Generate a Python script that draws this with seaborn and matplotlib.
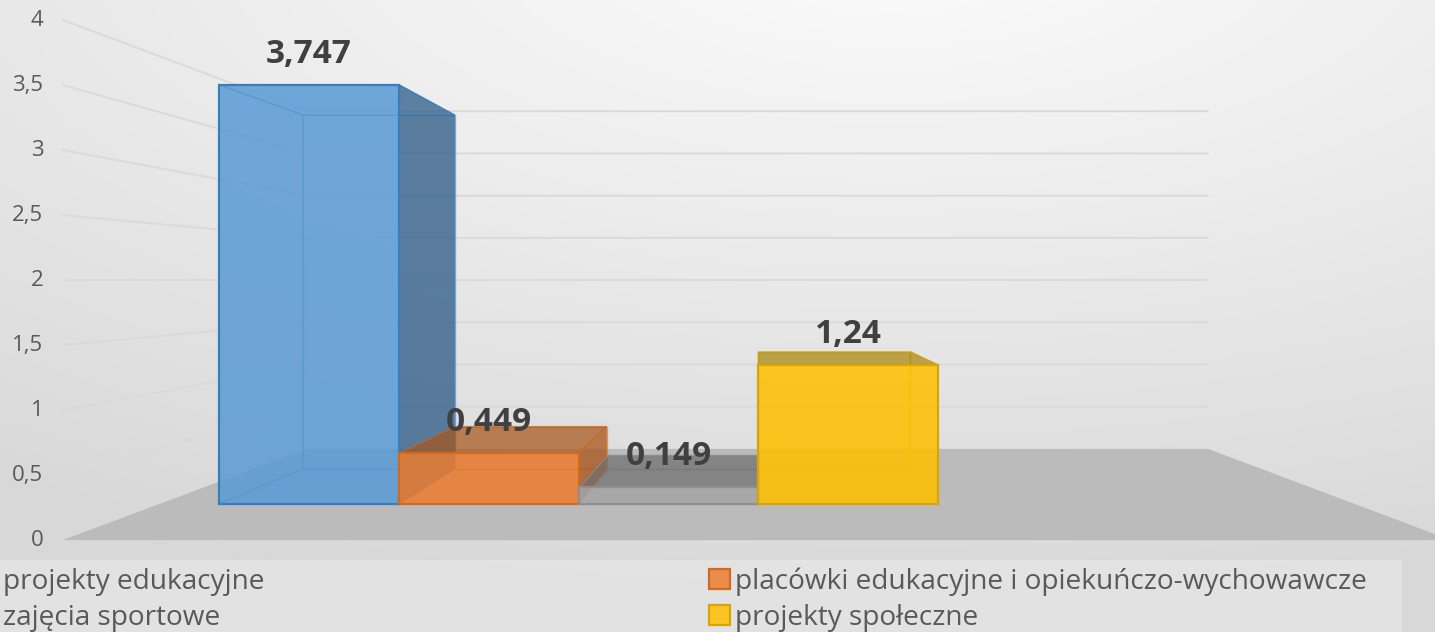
import numpy as np
import pandas as pd
import seaborn as sns
import matplotlib.pyplot as plt
from matplotlib.colors import to_rgba
from matplotlib.patches import Patch, Polygon, Rectangle

# dane
kategorie = ["projekty edukacyjne", "placówki edukacyjne i opiekuńczo-wychowawcze",
             "zajęcia sportowe", "projekty społeczne"]
wartosci = [3.747, 0.449, 0.149, 1.24]
etykiety = ["3,747", "0,449", "0,149", "1,24"]
ticki = [0, 0.5, 1, 1.5, 2, 2.5, 3, 3.5, 4]
tick_labels = ["0", "0,5", "1", "1,5", "2", "2,5", "3", "3,5", "4"]

kolory = ["#5B9BD5", "#ED7D31", "#A5A5A5", "#FFC000"]
krawedzie = ["#3A7DBD", "#CF6A22", "#8F8F8F", "#D6A50C"]
ciemne = ["#2C5A84", "#A8551C", "#6E6E6E", "#A8850A"]

# perspektywa: punkt zbiegu i skale dla scian wykresu oraz tylu slupka
vx, vy = 2.5, 2.0
k_przod, k_tyl, k_slupek = 1.163, 0.755, 0.845
x_lewy, x_prawy = -0.827, 5.813


def rzut(x, y, k):
    return vx + (x - vx) * k, vy + (y - vy) * k


sns.set_style("white")
plt.rcParams['font.family'] = ['Open Sans', 'DejaVu Sans']

fig = plt.figure(figsize=(14.35, 6.32), dpi=100)
ax = fig.add_axes([0, 0, 1, 1])

df = pd.DataFrame({"kategoria": kategorie, "wartosc": wartosci})
sns.barplot(data=df, x="kategoria", y="wartosc", hue="kategoria", order=kategorie, hue_order=kategorie,
            palette=dict(zip(kategorie, kolory)), saturation=1, width=1, dodge=False, legend=False, ax=ax)

for bar, kolor, krawedz in zip(ax.patches, kolory, krawedzie):
    bar.set_facecolor(to_rgba(kolor, 0.85))
    bar.set_edgecolor(krawedz)
    bar.set_linewidth(1.6)
    bar.set_zorder(6)

# tlo z gradientem
yy, xx = np.mgrid[0:1:316j, 0:1:718j]
odl = np.sqrt(((xx - 0.62) * 0.85) ** 2 + ((yy - 1.1) * 0.9) ** 2)
ax.imshow(np.clip(odl / 0.95, 0, 1), cmap=sns.blend_palette(["#FCFCFC", "#D8D8D8"], as_cmap=True), vmin=0, vmax=1,
          extent=(0, 1, 0, 1), transform=ax.transAxes, origin='lower', aspect='auto', zorder=0)

# podloga
podloga = [rzut(x_lewy, 0, k_przod), rzut(x_prawy, 0, k_przod), rzut(x_prawy, 0, k_tyl), rzut(x_lewy, 0, k_tyl)]
ax.add_patch(Polygon(podloga, closed=True, facecolor="#BBBBBB", edgecolor="none", zorder=1))

# linie siatki na scianach
for t in ticki:
    if t == 0:
        continue
    pts = [rzut(x_lewy, t, k_przod), rzut(x_lewy, t, k_tyl), rzut(x_prawy, t, k_tyl)]
    ax.plot(*zip(*pts), color="#DADADA", lw=1.4, zorder=1)

# opisy osi y
for t, lab in zip(ticki, tick_labels):
    ax.annotate(lab, xy=rzut(x_lewy, t, k_przod), xytext=(-14, 0), textcoords='offset points',
                ha='right', va='center', fontsize=16, color="#595959", zorder=8)

# sciany slupkow
for i, v in enumerate(wartosci):
    x0, x1 = i - 0.5, i + 0.5
    f = lambda x, y: rzut(x, y, 1)
    b = lambda x, y: rzut(x, y, k_slupek)
    tyl = [b(x0, 0), b(x1, 0), b(x1, v), b(x0, v)]
    lewa = [f(x0, 0), b(x0, 0), b(x0, v), f(x0, v)]
    prawa = [f(x1, 0), b(x1, 0), b(x1, v), f(x1, v)]
    dol = [f(x0, 0), f(x1, 0), b(x1, 0), b(x0, 0)]
    gora = [f(x0, v), f(x1, v), b(x1, v), b(x0, v)]
    for sciana in (tyl, lewa, dol):
        ax.add_patch(Polygon(sciana, closed=True, facecolor=to_rgba(kolory[i], 0.06),
                             edgecolor=to_rgba(krawedzie[i], 0.5), lw=1, zorder=3 + i * 0.1))
    # prawa sciana ciemna tylko gdy wystaje poza przod
    kolor_p = to_rgba(ciemne[i], 0.75) if x1 < vx else to_rgba(kolory[i], 0.06)
    ax.add_patch(Polygon(prawa, closed=True, facecolor=kolor_p,
                         edgecolor=to_rgba(krawedzie[i], 0.7), lw=1, zorder=4 + i * 0.1))
    # gora widoczna tylko ponizej linii oczu
    kolor_g = to_rgba(ciemne[i], 0.7) if v < vy else to_rgba(kolory[i], 0.05)
    ax.add_patch(Polygon(gora, closed=True, facecolor=kolor_g,
                         edgecolor=to_rgba(krawedzie[i], 0.7), lw=1, zorder=4.5 + i * 0.1))

# etykiety danych
for i, (v, lab) in enumerate(zip(wartosci, etykiety)):
    ax.annotate(lab, xy=(i, v), xytext=(0, 22), textcoords='offset points', ha='center', va='center',
                fontsize=24, fontweight='bold', color="#404040", zorder=9)

# panel legendy
ax.add_patch(Rectangle((0, 0), 1402 / 1435, 72 / 632, transform=ax.transAxes, facecolor="white",
                       alpha=0.28, edgecolor="none", zorder=1.5))

uchwyty = [Patch(facecolor=to_rgba(kolory[i], 0.85), edgecolor=krawedzie[i], linewidth=1.6, label=kategorie[i])
           for i in [0, 2, 1, 3]]
ax.legend(handles=uchwyty, ncol=2, loc='lower left', bbox_to_anchor=(-24 / 1435, -1 / 632), frameon=False,
          fontsize=20.2, labelcolor="#595959", handlelength=0.72, handleheight=0.72, handletextpad=0.2,
          labelspacing=0.28, columnspacing=15.85, borderpad=0.05, borderaxespad=0)

ax.set_xlim(-1.719, 6.264)
ax.set_ylim(-1.148, 4.505)
ax.axis('off')

plt.savefig("out.png", dpi=100)
